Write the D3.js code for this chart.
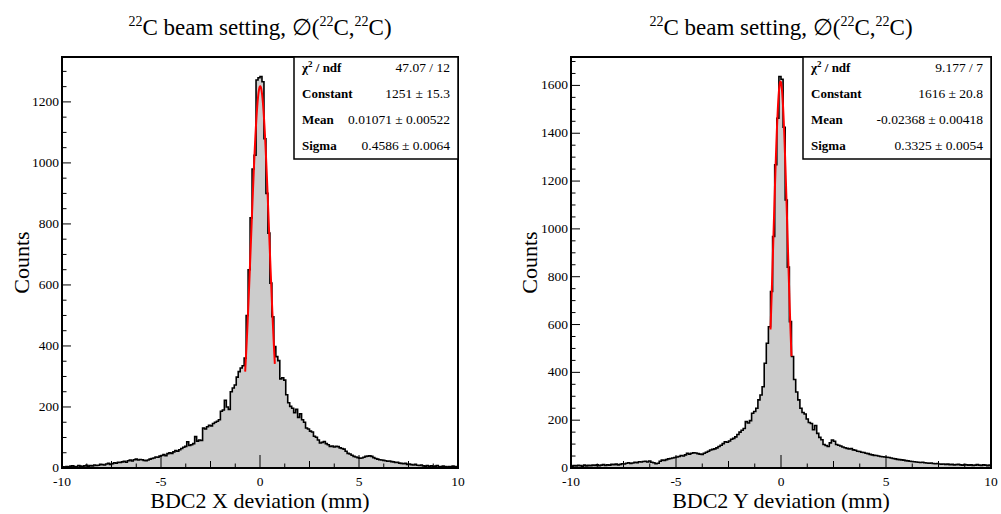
<!DOCTYPE html>
<html><head><meta charset="utf-8">
<script src="https://cdn.jsdelivr.net/npm/d3@7"></script>
<style>
body{margin:0;background:#fff}
svg{display:block}
text{font-family:"Liberation Serif","Times New Roman",Times,serif;fill:#000}
</style>
</head><body>
<svg id="c" width="1001" height="514"></svg>
<script>
// ---------- data ----------
const xLow = -10, xHigh = 10, binWidth = 0.1;
// BDC2 X deviation histogram, 200 bins of 0.1 mm from -10 to 10
const xCounts = [
 4,3,5,4,6,7,4,5,8,6,
 5,7,9,6,8,7,10,8,9,12,
 11,10,13,15,12,14,17,16,19,18,
 20,22,19,24,26,23,27,29,26,28,
 27,25,24,26,29,31,33,36,35,39,
 41,44,40,47,50,48,53,57,55,60,
 64,68,71,86,74,76,80,103,88,92,
 90,131,128,135,140,138,146,150,153,158,
 186,190,222,200,192,250,262,272,298,316,
 328,335,360,500,650,820,980,1025,1272,1279,
 1283,1266,1079,900,770,606,496,398,365,352,
 292,296,288,240,214,202,196,181,192,166,
 178,158,150,131,128,121,118,104,101,92,
 82,84,87,80,76,71,72,69,71,70,
 66,64,62,55,48,46,42,38,36,34,
 32,33,35,38,39,40,38,34,31,29,
 27,26,25,24,22,23,21,20,18,19,
 16,15,14,15,12,13,11,10,12,9,
 8,10,7,6,8,5,7,4,6,8,
 5,4,6,5,3,5,4,6,5,4
];
// BDC2 Y deviation histogram, 200 bins of 0.1 mm from -10 to 10
const yCounts = [
 8,10,9,11,10,8,12,9,11,10,
 12,11,13,10,12,14,11,13,12,15,
 14,16,13,15,18,17,20,22,19,21,
 24,22,26,25,27,28,25,29,24,22,
 18,20,28,33,32,35,38,40,42,44,
 46,48,52,50,55,61,58,62,64,63,
 60,58,57,62,66,70,75,78,80,84,
 90,95,102,110,108,113,120,124,130,140,
 150,158,165,194,188,198,229,236,250,285,
 305,340,438,522,591,738,968,1268,1463,1637,
 1626,1425,1121,840,612,466,370,318,285,250,
 232,226,205,190,186,160,178,145,128,118,
 98,94,90,105,117,112,98,95,92,88,
 85,82,80,81,76,74,70,69,66,65,
 62,60,57,55,53,52,50,48,47,46,
 45,44,42,40,38,36,35,34,33,31,
 30,28,27,26,25,24,23,24,22,21,
 20,21,19,18,19,17,16,17,15,16,
 14,15,13,14,15,13,12,14,13,12,
 13,11,12,14,12,11,13,12,10,12
];
const xTickLabels = [-10, -5, 0, 5, 10];
const leftYTickLabels = [0, 200, 400, 600, 800, 1000, 1200];
const rightYTickLabels = [0, 200, 400, 600, 800, 1000, 1200, 1400, 1600];
// Gaussian fit parameters [constant, mean, sigma] and fit ranges
const xFitParams = [1251, 0.01071, 0.4586];
const yFitParams = [1616, -0.02368, 0.3325];
const xFitRange = [-0.75, 0.75];
const yFitRange = [-0.5, 0.5];
const statLabels = ["χ2 / ndf", "Constant", "Mean", "Sigma"];
const xStatValues = ["47.07 / 12", "1251 ± 15.3", "0.01071 ± 0.00522", "0.4586 ± 0.0064"];
const yStatValues = ["9.177 / 7", "1616 ± 20.8", "-0.02368 ± 0.00418", "0.3325 ± 0.0054"];
const xAxisTitles = ["BDC2 X deviation (mm)", "BDC2 Y deviation (mm)"];

// ---------- drawing ----------
const svg = d3.select("#c");
svg.append("rect").attr("width",1001).attr("height",514).attr("fill","#fff");

function panel(opt) {
  const {left, right, top, bottom, counts, yTicks, fit, fitRange, statValues, boxLeft, xTitle, countsX} = opt;
  const maxC = d3.max(counts);
  const x = d3.scaleLinear().domain([xLow, xHigh]).range([left, right]);
  const y = d3.scaleLinear().domain([0, maxC * 1.05]).range([bottom, top]);
  const g = svg.append("g");

  const bins = counts.map((c, i) => ({x0: xLow + i * binWidth, c}));
  bins.push({x0: xHigh, c: counts[counts.length - 1]});

  g.append("path").datum(bins)
    .attr("d", d3.area().x(d => x(d.x0)).y0(y(0)).y1(d => y(d.c)).curve(d3.curveStepAfter))
    .attr("fill", "#cccccc");
  g.append("path").datum(bins)
    .attr("d", d3.line().x(d => x(d.x0)).y(d => y(d.c)).curve(d3.curveStepAfter))
    .attr("fill", "none").attr("stroke", "#000").attr("stroke-width", 1.6);

  // fit
  const [A, mu, sg] = fit;
  const fx = d3.range(0, 201).map(k => fitRange[0] + (fitRange[1] - fitRange[0]) * k / 200);
  g.append("path").datum(fx)
    .attr("d", d3.line().x(v => x(v)).y(v => y(A * Math.exp(-0.5 * ((v - mu) / sg) ** 2))))
    .attr("fill", "none").attr("stroke", "#ff0000").attr("stroke-width", 2);

  // x ticks
  const xt = d3.range(0, 17).map(k => xLow + k * 1.25);
  g.selectAll(null).data(xt).enter().append("line")
    .attr("x1", d => x(d)).attr("x2", d => x(d))
    .attr("y1", bottom)
    .attr("y2", d => {
      const r = Math.abs(d % 5);
      const len = r < 1e-6 ? 13 : (Math.abs(r - 2.5) < 1e-6 ? 7 : 4.5);
      return bottom - len;
    })
    .attr("stroke", "#000").attr("stroke-width", 1);
  g.selectAll(null).data(xTickLabels).enter().append("text")
    .attr("x", d => x(d)).attr("y", bottom + 18)
    .attr("text-anchor", "middle").attr("font-size", 13.5)
    .text(d => d);

  // y ticks
  const yt = d3.range(0, maxC * 1.05, 50);
  g.selectAll(null).data(yt).enter().append("line")
    .attr("x1", left).attr("x2", d => left + (d % 200 === 0 ? 9 : 4.5))
    .attr("y1", d => y(d)).attr("y2", d => y(d))
    .attr("stroke", "#000").attr("stroke-width", 1);
  g.selectAll(null).data(yTicks).enter().append("text")
    .attr("x", left - 3).attr("y", d => y(d) + 4)
    .attr("text-anchor", "end").attr("font-size", 13.5)
    .text(d => d);

  // frame
  g.append("rect").attr("x", left).attr("y", top).attr("width", right - left).attr("height", bottom - top)
    .attr("fill", "none").attr("stroke", "#000").attr("stroke-width", 2);

  // title
  const cx = (left + right) / 2;
  const t = g.append("text").attr("x", cx).attr("y", 35).attr("text-anchor", "middle").attr("font-size", 23);
  t.append("tspan").attr("font-size", 14).attr("dy", -9).text("22");
  t.append("tspan").attr("dy", 9).text("C beam setting, ∅(");
  t.append("tspan").attr("font-size", 14).attr("dy", -9).text("22");
  t.append("tspan").attr("dy", 9).text("C,");
  t.append("tspan").attr("font-size", 14).attr("dy", -9).text("22");
  t.append("tspan").attr("dy", 9).text("C)");

  // axis titles
  g.append("text").attr("x", cx).attr("y", 508).attr("text-anchor", "middle").attr("font-size", 22).text(xTitle);
  g.append("text").attr("transform", `translate(${countsX},${(top + bottom) / 2}) rotate(-90)`)
    .attr("text-anchor", "middle").attr("font-size", 22).text("Counts");

  // stats box
  const boxTop = top, boxBottom = 159;
  g.append("rect").attr("x", boxLeft).attr("y", boxTop).attr("width", right - boxLeft).attr("height", boxBottom - boxTop)
    .attr("fill", "#fff").attr("stroke", "#000").attr("stroke-width", 1.5);
  const rowY = [72, 98, 124, 150];
  statLabels.forEach((lab, i) => {
    const tl = g.append("text").attr("x", boxLeft + 8).attr("y", rowY[i]).attr("font-size", 13).attr("font-weight", "bold");
    if (i === 0) {
      tl.append("tspan").text("χ");
      tl.append("tspan").attr("font-size", 9).attr("dy", -5).text("2");
      tl.append("tspan").attr("dy", 5).text(" / ndf");
    } else tl.text(lab);
    g.append("text").attr("x", right - 8).attr("y", rowY[i]).attr("text-anchor", "end").attr("font-size", 13.5).text(statValues[i]);
  });
}

panel({left: 62, right: 458, top: 57, bottom: 468, counts: xCounts, yTicks: leftYTickLabels,
  fit: xFitParams, fitRange: xFitRange, statValues: xStatValues, boxLeft: 294, xTitle: xAxisTitles[0], countsX: 29});
panel({left: 571, right: 991, top: 57, bottom: 468, counts: yCounts, yTicks: rightYTickLabels,
  fit: yFitParams, fitRange: yFitRange, statValues: yStatValues, boxLeft: 803, xTitle: xAxisTitles[1], countsX: 537});
</script>
</body></html>
